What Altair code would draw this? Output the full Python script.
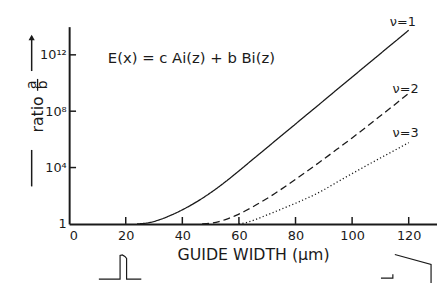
import altair as alt
import pandas as pd

# ---- curve readings: guide width (μm) and log10(ratio a/b) ----
x_nu1 = [24, 28, 32, 36, 40, 44, 48, 52, 56, 60, 64, 68, 72, 76, 80, 84, 88, 92, 96, 100, 104, 108, 112, 116, 120]
lg_nu1 = [0.0, 0.08, 0.3, 0.62, 1.0, 1.44, 1.94, 2.5, 3.11, 3.76, 4.43, 5.09, 5.76, 6.43, 7.09, 7.76,
          8.42, 9.09, 9.76, 10.42, 11.09, 11.75, 12.42, 13.08, 13.75]
x_nu2 = [47, 50, 53, 56, 59, 62, 65, 68, 71, 74, 77, 80, 84, 88, 92, 96, 100, 104, 108, 112, 116, 120]
lg_nu2 = [0.0, 0.05, 0.17, 0.36, 0.6, 0.9, 1.22, 1.57, 1.94, 2.33, 2.74, 3.16, 3.73, 4.31, 4.9, 5.5,
          6.1, 6.72, 7.35, 7.98, 8.62, 9.27]
x_nu3 = [60, 63, 66, 69, 72, 75, 78, 81, 84, 87, 90, 95, 100, 105, 110, 115, 120]
lg_nu3 = [0.0, 0.12, 0.32, 0.56, 0.8, 1.05, 1.3, 1.55, 1.82, 2.1, 2.42, 3.0, 3.57, 4.13, 4.68, 5.22, 5.77]
modes = ["ν=1", "ν=2", "ν=3"]

x_ticks = [0, 20, 40, 60, 80, 100, 120]
y_ticks = [1, 1e4, 1e8, 1e12]
y_tick_marks = [1e4, 1e8, 1e12]
x_tick_marks = [20, 40, 60, 80, 100, 120]

# curve labels (data coordinates)
lab_text = ["ν=1", "ν=2", "ν=3"]
lab_x = [117.9, 118.9, 118.9]
lab_lg = [14.35, 9.59, 6.44]

# small waveguide profile sketches below the axis (data coordinates)
sk_group = ["p"] * 8 + ["r"] * 3 + ["s"] * 3
sk_x = [10.5, 18.0, 18.0, 18.8, 19.7, 20.3, 20.3, 25.5, 115.1, 127.9, 127.9, 110.2, 114.4, 114.4]
sk_lg = [-3.92, -3.92, -2.24, -2.2, -2.31, -2.45, -3.92, -3.92, -2.17, -2.87, -4.2, -3.85, -3.85, -3.57]

rows = []
for m, xs, ls in zip(modes, [x_nu1, x_nu2, x_nu3], [lg_nu1, lg_nu2, lg_nu3]):
    for xv, lv in zip(xs, ls):
        rows.append({"mode": m, "width": xv, "ratio": 10 ** lv})
curves = pd.DataFrame(rows)
labels = pd.DataFrame({"t": lab_text, "width": lab_x, "ratio": [10 ** v for v in lab_lg]})
sketch = pd.DataFrame({"g": sk_group, "width": sk_x, "ratio": [10 ** v for v in sk_lg],
                       "idx": list(range(len(sk_x)))})
xt = pd.DataFrame({"width": x_tick_marks})
yt = pd.DataFrame({"ratio": y_tick_marks})

W, H = 373, 200
FONT = "DejaVu Sans"
INK = "#1a1a1a"
xscale = alt.Scale(domain=[0, 130], nice=False, zero=False)
yscale = alt.Scale(type="log", domain=[1, 1e14], nice=False)

xaxis = alt.Axis(values=x_ticks, format="d", ticks=False, tickSize=0, grid=False,
                 domainWidth=2, domainColor=INK, labelFont=FONT, labelFontSize=13,
                 labelColor=INK, labelPadding=6, title="GUIDE WIDTH (μm)", titleFont=FONT,
                 titleFontSize=16, titleFontWeight="normal", titleColor=INK, titlePadding=4)
yaxis = alt.Axis(values=y_ticks, ticks=False, tickSize=0, grid=False, domainWidth=2,
                 domainColor=INK, labelFont=FONT, labelFontSize=13, labelColor=INK,
                 labelPadding=3, title="",
                 labelExpr="datum.value < 10 ? '1' : datum.value < 1e5 ? '10⁴' : datum.value < 1e9 ? '10⁸' : '10¹²'")

X = alt.X("width:Q", scale=xscale, axis=xaxis, title="GUIDE WIDTH (μm)")
Y = alt.Y("ratio:Q", scale=yscale, axis=yaxis, title="")

lines = alt.Chart(curves).mark_line(color=INK, strokeWidth=1.3, interpolate="monotone").encode(
    x=X, y=Y,
    strokeDash=alt.StrokeDash("mode:N", scale=alt.Scale(domain=modes, range=[[1, 0], [7, 4], [1.2, 2.4]]),
                              legend=None),
    detail="mode:N",
)

xtick_layer = alt.Chart(xt).mark_rule(color=INK, strokeWidth=1.5).encode(
    x=X, y=alt.value(H), y2=alt.value(H - 7))
ytick_layer = alt.Chart(yt).mark_rule(color=INK, strokeWidth=1.5).encode(
    y=Y, x=alt.value(0), x2=alt.value(7))

lab_layer = alt.Chart(labels).mark_text(font=FONT, fontSize=13, color=INK, align="center",
                                        baseline="middle").encode(x=X, y=Y, text="t:N")

sketch_layer = alt.Chart(sketch).mark_line(color=INK, strokeWidth=1.2).encode(
    x=X, y=Y, detail="g:N", order=alt.Order("idx:Q"))

eq = alt.Chart(pd.DataFrame({"t": ["E(x) = c Ai(z) + b Bi(z)"]})).mark_text(
    font=FONT, fontSize=15, color=INK, align="center", baseline="middle").encode(
    x=alt.value(124), y=alt.value(32), text="t:N")

ratio_txt = alt.Chart(pd.DataFrame({"t": ["ratio"]})).mark_text(
    font=FONT, fontSize=16, color=INK, angle=270, align="center", baseline="middle").encode(
    x=alt.value(-32), y=alt.value(89), text="t:N")
frac_txt = alt.Chart(pd.DataFrame({"t": ["a", "b"], "px": [-37.5, -26.5]})).mark_text(
    font=FONT, fontSize=14, color=INK, angle=270, align="center", baseline="middle").encode(
    x=alt.X("px:Q", scale=None), y=alt.value(59), text="t:N")
frac_bar = alt.Chart(pd.DataFrame({"k": [0]})).mark_rule(color=INK, strokeWidth=1.3).encode(
    x=alt.value(-32), y=alt.value(53), y2=alt.value(65))
arrow_up = alt.Chart(pd.DataFrame({"k": [0]})).mark_rule(color=INK, strokeWidth=1.5).encode(
    x=alt.value(-38), y=alt.value(10), y2=alt.value(45))
arrow_head = alt.Chart(pd.DataFrame({"k": [0]})).mark_point(shape="triangle-up", filled=True,
                                                           color=INK, size=40, opacity=1).encode(
    x=alt.value(-38), y=alt.value(11))
arrow_low = alt.Chart(pd.DataFrame({"k": [0]})).mark_rule(color=INK, strokeWidth=1.5).encode(
    x=alt.value(-38), y=alt.value(125), y2=alt.value(162))

chart = alt.layer(lines, xtick_layer, ytick_layer, lab_layer, sketch_layer, eq, ratio_txt, frac_txt,
                  frac_bar, arrow_up, arrow_head, arrow_low).properties(
    width=W, height=H,
    autosize=alt.AutoSizeParams(type="none"),
    padding={"left": 62, "top": 17, "right": 0, "bottom": 58},
    background="white",
).configure_view(stroke=None)

chart.save("out.html", embed_options={"renderer": "svg", "actions": False})
